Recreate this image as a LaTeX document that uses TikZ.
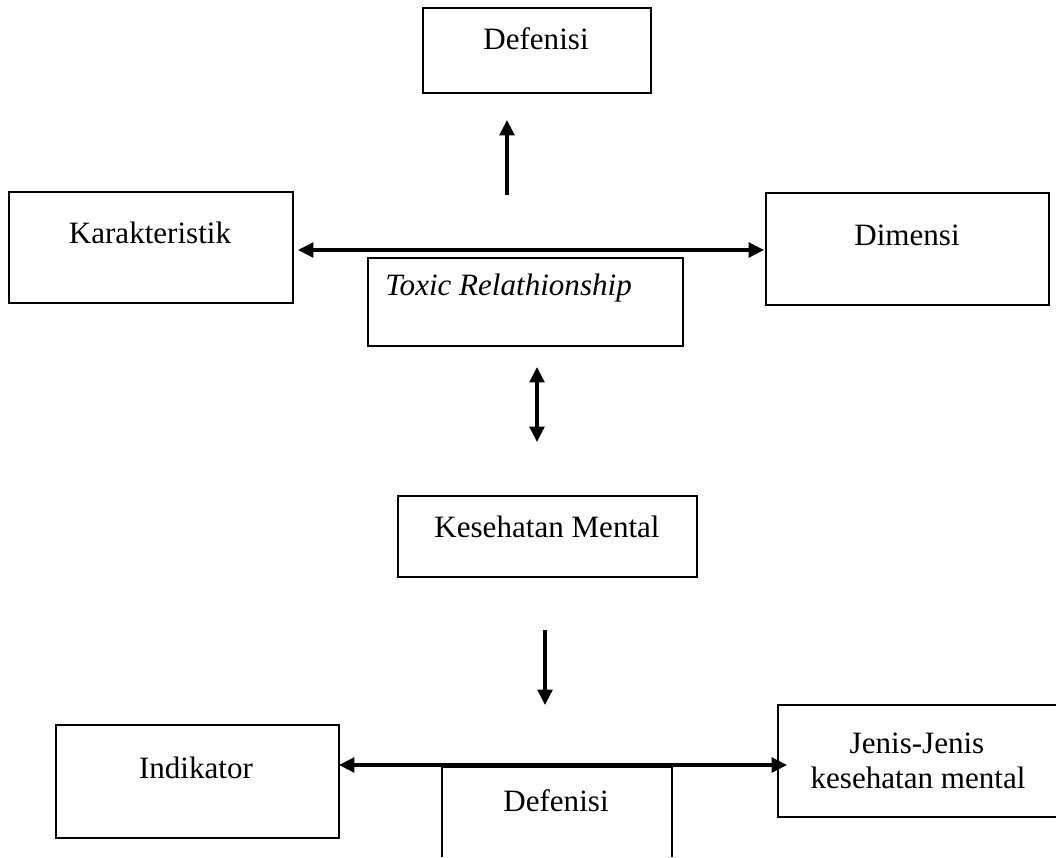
\documentclass[tikz,border=0pt]{standalone}
\usepackage{fontspec}
\setmainfont{Liberation Serif}
\usetikzlibrary{arrows.meta}
\begin{document}
\begin{tikzpicture}[x=0.75pt,y=-0.75pt,
  box/.style={draw=black, line width=1.5pt, rectangle, inner sep=0pt, outer sep=0pt},
  openbox/.style={rectangle, inner sep=0pt, outer sep=0pt},
  lbl/.style={font=\fontsize{23.3pt}{26.2pt}\selectfont, inner sep=0pt, anchor=base},
  conn/.style={line width=2.5pt, -{Triangle[length=11.5pt,width=11pt]}},
  dconn/.style={line width=2.5pt, {Triangle[length=11.5pt,width=11pt]}-{Triangle[length=11.5pt,width=11pt]}}
]
\useasboundingbox (0,0) rectangle (1056,857);

% boxes
\node[box, minimum width=171pt, minimum height=63.75pt] (def1) at (537,50.5) {};
\node[box, minimum width=213pt, minimum height=83.25pt] (kar) at (151,247.5) {};
\node[box, minimum width=212.25pt, minimum height=84pt] (dim) at (907.5,249) {};
\node[box, minimum width=236.25pt, minimum height=66pt] (tox) at (525.5,302) {};
\node[box, minimum width=224.25pt, minimum height=60.75pt] (kes) at (547.5,536.5) {};
\node[box, minimum width=212.25pt, minimum height=84.75pt] (ind) at (197.5,781.5) {};
\node[openbox, minimum width=172.5pt, minimum height=67.5pt] (def2) at (557,812) {};
\node[openbox, minimum width=208.5pt, minimum height=84pt] (jen) at (917,761) {};
\draw[line width=1.5pt] (def2.south west) -- (def2.north west) -- (def2.north east) -- (def2.south east);
\draw[line width=1.5pt] (jen.north east) -- (jen.north west) -- (jen.south west) -- (jen.south east);

% texts
\node[lbl] (t-def1) at (536,49) {Defenisi};
\node[lbl] (t-kar) at (150,243) {Karakteristik};
\node[lbl] (t-dim) at (907,245) {Dimensi};
\node[lbl, anchor=base west] (t-tox) at (385,295) {\itshape Toxic Relathionship};
\node[lbl] (t-kes) at (547,537) {Kesehatan Mental};
\node[lbl] (t-ind) at (196,778) {Indikator};
\node[lbl] (t-def2) at (556,811) {Defenisi};
\node[lbl] (t-jen1) at (917,753) {Jenis-Jenis};
\node[lbl] (t-jen2) at (918,788) {kesehatan mental};

% connector coordinates
\coordinate (up-s) at (507,195);
\coordinate (up-e) at (507,120);
\coordinate (h1) at (0,250);
\coordinate (v-s) at (537,367);
\coordinate (v-e) at (537,442);
\coordinate (dn-s) at (545,630);
\coordinate (dn-e) at (545,705);
\coordinate (h2) at (0,765);

% connectors
\draw[conn] (up-s) -- (up-e);
\draw[dconn, shorten <=3.75pt, shorten >=1.5pt] (kar.east |- h1) -- (dim.west |- h1);
\draw[dconn] (v-s) -- (v-e);
\draw[conn] (dn-s) -- (dn-e);
\draw[dconn, shorten >=-6.75pt] (ind.east |- h2) -- (jen.west |- h2);
\end{tikzpicture}
\end{document}
